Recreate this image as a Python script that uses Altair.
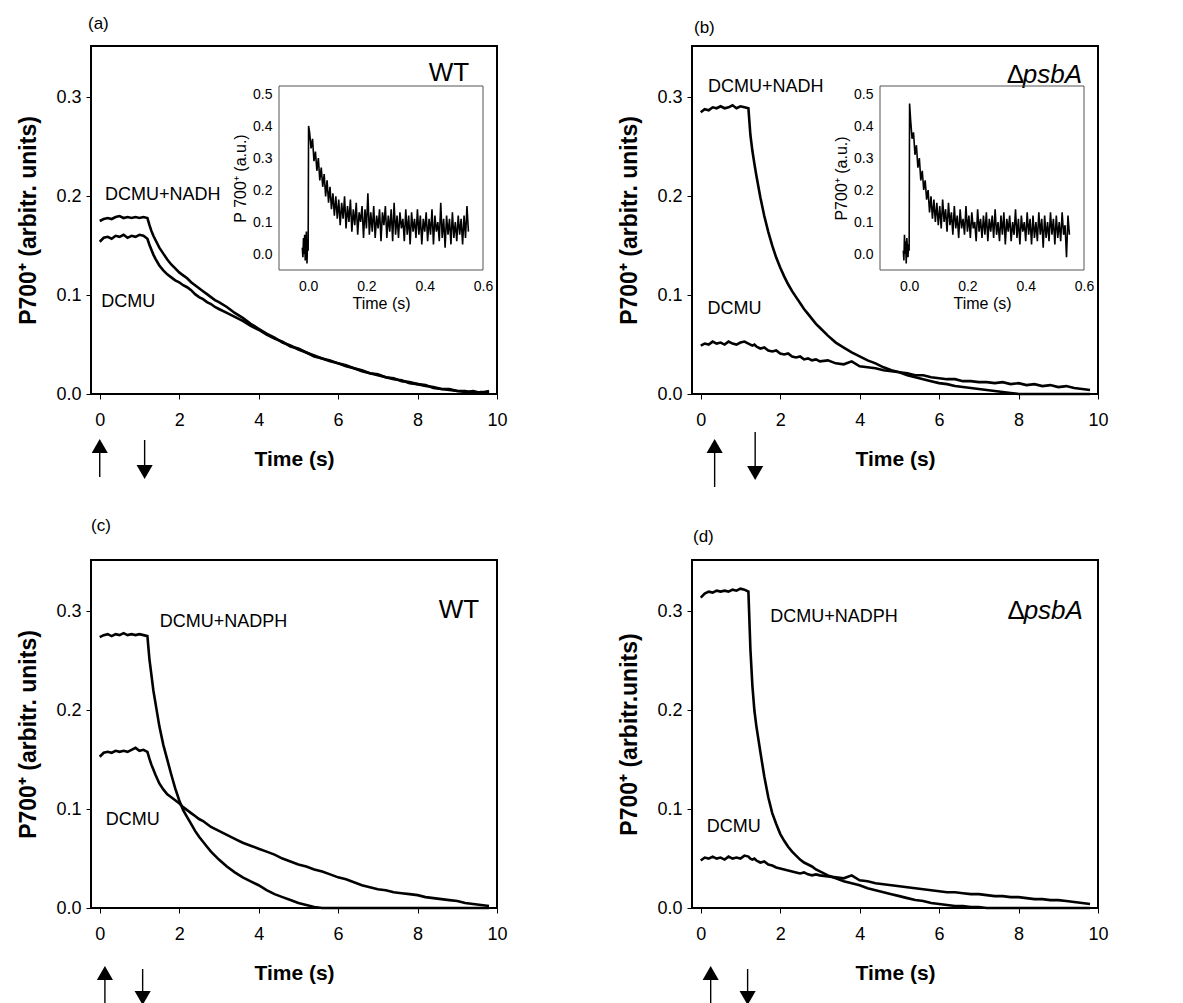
import altair as alt
import pandas as pd

FONT = "Liberation Sans"

# ---------------- data ----------------
time_s = [0.0, 0.1, 0.2, 0.3, 0.4, 0.5, 0.6, 0.7, 0.8, 0.9, 1.0, 1.1, 1.2,
          1.25, 1.3, 1.35, 1.4, 1.5, 1.6, 1.7, 1.8, 1.9, 2.0, 2.1, 2.2, 2.3, 2.4, 2.5, 2.6, 2.7, 2.8, 2.9, 3.0,
          3.2, 3.4, 3.6, 3.8, 4.0, 4.2, 4.4, 4.6, 4.8, 5.0, 5.2, 5.4, 5.6, 5.8, 6.0, 6.2, 6.4,
          6.6, 6.8, 7.0, 7.2, 7.4, 7.6, 7.8, 8.0, 8.2, 8.4, 8.6, 8.8, 9.0, 9.2, 9.4, 9.6, 9.8]

a_nadh = [0.175, 0.177, 0.178, 0.177, 0.179, 0.180, 0.178, 0.179, 0.178, 0.179, 0.178, 0.179, 0.178,
          0.171, 0.165, 0.160, 0.156, 0.148, 0.142, 0.136, 0.131, 0.127, 0.123, 0.120, 0.117, 0.113, 0.110, 0.107, 0.104, 0.101, 0.098, 0.095, 0.093,
          0.088, 0.082, 0.077, 0.071, 0.066, 0.061, 0.057, 0.052, 0.049, 0.045, 0.042, 0.039, 0.036, 0.034, 0.031, 0.028, 0.026,
          0.024, 0.021, 0.019, 0.017, 0.016, 0.013, 0.012, 0.010, 0.008, 0.007, 0.005, 0.004, 0.003, 0.003, 0.001, 0.002, 0.002]
a_dcmu = [0.154, 0.158, 0.159, 0.157, 0.160, 0.159, 0.161, 0.158, 0.160, 0.159, 0.161, 0.160, 0.157,
          0.151, 0.146, 0.141, 0.137, 0.130, 0.125, 0.121, 0.118, 0.115, 0.113, 0.110, 0.108, 0.105, 0.101, 0.098, 0.096, 0.093, 0.091, 0.088, 0.086,
          0.082, 0.078, 0.074, 0.069, 0.065, 0.060, 0.056, 0.053, 0.048, 0.046, 0.042, 0.038, 0.036, 0.033, 0.031, 0.029, 0.026,
          0.023, 0.021, 0.020, 0.017, 0.015, 0.014, 0.011, 0.010, 0.009, 0.006, 0.005, 0.005, 0.003, 0.002, 0.003, 0.001, 0.003]
b_nadh = [0.285, 0.288, 0.287, 0.290, 0.289, 0.291, 0.289, 0.290, 0.292, 0.289, 0.291, 0.290, 0.289,
          0.262, 0.246, 0.233, 0.221, 0.199, 0.180, 0.164, 0.150, 0.138, 0.128, 0.119, 0.111, 0.104, 0.098, 0.092, 0.086, 0.081, 0.076, 0.071, 0.067,
          0.059, 0.052, 0.047, 0.042, 0.038, 0.034, 0.031, 0.027, 0.024, 0.022, 0.019, 0.017, 0.015, 0.013, 0.011, 0.010, 0.008,
          0.007, 0.006, 0.005, 0.004, 0.003, 0.002, 0.001, 0.000, 0.000, 0.000, 0.000, 0.000, 0.000, 0.000, 0.000, 0.000, 0.000]
b_dcmu = [0.049, 0.051, 0.050, 0.053, 0.051, 0.052, 0.050, 0.053, 0.051, 0.050, 0.052, 0.053, 0.051,
          0.050, 0.049, 0.050, 0.048, 0.046, 0.047, 0.044, 0.043, 0.044, 0.041, 0.040, 0.041, 0.038, 0.037, 0.038, 0.035, 0.036, 0.034, 0.035, 0.033,
          0.034, 0.031, 0.030, 0.033, 0.028, 0.027, 0.026, 0.024, 0.023, 0.022, 0.021, 0.019, 0.019, 0.017, 0.016, 0.015, 0.015,
          0.013, 0.013, 0.012, 0.012, 0.011, 0.012, 0.010, 0.011, 0.009, 0.010, 0.008, 0.009, 0.007, 0.008, 0.006, 0.005, 0.004]
c_nadph = [0.274, 0.276, 0.277, 0.275, 0.277, 0.276, 0.278, 0.276, 0.277, 0.276, 0.277, 0.276, 0.275,
           0.252, 0.236, 0.220, 0.208, 0.184, 0.165, 0.150, 0.135, 0.121, 0.109, 0.099, 0.092, 0.085, 0.078, 0.072, 0.067, 0.062, 0.057, 0.053, 0.049,
           0.042, 0.036, 0.031, 0.027, 0.023, 0.018, 0.014, 0.011, 0.008, 0.005, 0.003, 0.001, 0.000, 0.000, 0.000, 0.000, 0.000,
           0.000, 0.000, 0.000, 0.000, 0.000, 0.000, 0.000, 0.000, 0.000, 0.000, 0.000, 0.000, 0.000, 0.000, 0.000, 0.000, 0.000]
c_dcmu = [0.153, 0.157, 0.158, 0.157, 0.159, 0.158, 0.159, 0.158, 0.160, 0.162, 0.159, 0.160, 0.158,
          0.151, 0.145, 0.140, 0.135, 0.126, 0.120, 0.115, 0.112, 0.109, 0.106, 0.102, 0.099, 0.096, 0.093, 0.090, 0.088, 0.085, 0.082, 0.080, 0.078,
          0.074, 0.070, 0.066, 0.063, 0.060, 0.057, 0.054, 0.050, 0.047, 0.044, 0.042, 0.039, 0.037, 0.034, 0.031, 0.029, 0.026,
          0.023, 0.021, 0.019, 0.018, 0.016, 0.015, 0.014, 0.013, 0.011, 0.010, 0.009, 0.008, 0.007, 0.005, 0.004, 0.003, 0.002]
d_nadph = [0.314, 0.318, 0.320, 0.319, 0.321, 0.320, 0.321, 0.320, 0.322, 0.321, 0.323, 0.322, 0.320,
           0.262, 0.225, 0.200, 0.184, 0.158, 0.133, 0.112, 0.096, 0.085, 0.075, 0.068, 0.062, 0.057, 0.053, 0.049, 0.046, 0.044, 0.042, 0.039, 0.037,
           0.033, 0.030, 0.027, 0.025, 0.023, 0.020, 0.018, 0.016, 0.014, 0.012, 0.010, 0.008, 0.007, 0.005, 0.004, 0.003, 0.002,
           0.002, 0.001, 0.001, 0.000, 0.000, 0.000, 0.000, 0.000, 0.000, 0.000, 0.000, 0.000, 0.000, 0.000, 0.000, 0.000, 0.000]
d_dcmu = [0.048, 0.051, 0.050, 0.052, 0.050, 0.051, 0.049, 0.052, 0.050, 0.051, 0.050, 0.053, 0.052,
          0.050, 0.049, 0.050, 0.048, 0.046, 0.047, 0.044, 0.043, 0.041, 0.040, 0.039, 0.038, 0.037, 0.036, 0.035, 0.036, 0.034, 0.033, 0.034, 0.033,
          0.032, 0.031, 0.030, 0.033, 0.028, 0.027, 0.025, 0.024, 0.023, 0.022, 0.021, 0.020, 0.019, 0.018, 0.017, 0.016, 0.016,
          0.015, 0.014, 0.014, 0.013, 0.012, 0.012, 0.011, 0.011, 0.010, 0.009, 0.009, 0.008, 0.008, 0.007, 0.006, 0.005, 0.004]

# inset traces (time in s, P700+ in a.u.)
inset_pre_t = [-0.020, -0.018, -0.016, -0.014, -0.012, -0.010, -0.008, -0.006, -0.004, -0.002, 0.000, 0.0015]
inset_t = inset_pre_t + [round(0.005 * i, 3) for i in range(1, 111)]
a_inset = [0.02, -0.01, 0.05, 0.00, 0.06, -0.02, 0.03, 0.07, -0.03, 0.04, 0.01, 0.40,
           0.38, 0.33, 0.36, 0.29, 0.32, 0.26, 0.30, 0.23, 0.27, 0.21,
           0.25, 0.18, 0.23, 0.16, 0.21, 0.14, 0.19, 0.12, 0.18, 0.11,
           0.17, 0.09, 0.16, 0.11, 0.18, 0.08, 0.15, 0.10, 0.17, 0.07,
           0.14, 0.09, 0.16, 0.06, 0.13, 0.10, 0.15, 0.05, 0.14, 0.08,
           0.19, 0.06, 0.13, 0.07, 0.15, 0.05, 0.12, 0.08, 0.14, 0.04,
           0.13, 0.09, 0.15, 0.05, 0.12, 0.07, 0.14, 0.04, 0.16, 0.06,
           0.12, 0.05, 0.13, 0.08, 0.11, 0.04, 0.14, 0.06, 0.12, 0.03,
           0.13, 0.07, 0.11, 0.05, 0.14, 0.06, 0.12, 0.03, 0.11, 0.07,
           0.13, 0.04, 0.11, 0.06, 0.14, 0.03, 0.12, 0.07, 0.10, 0.04,
           0.16, 0.05, 0.11, 0.02, 0.12, 0.06, 0.11, 0.03, 0.13, 0.05,
           0.10, 0.04, 0.12, 0.06, 0.11, 0.03, 0.12, 0.05, 0.15, 0.07]
b_inset = [0.01, -0.02, 0.06, 0.00, 0.04, -0.03, 0.05, 0.02, -0.01, 0.03, 0.01, 0.47,
           0.42, 0.36, 0.38, 0.31, 0.34, 0.27, 0.30, 0.23, 0.26, 0.20,
           0.23, 0.17, 0.20, 0.13, 0.18, 0.11, 0.17, 0.10, 0.16, 0.09,
           0.15, 0.08, 0.17, 0.10, 0.14, 0.07, 0.16, 0.09, 0.13, 0.06,
           0.15, 0.08, 0.12, 0.05, 0.14, 0.08, 0.11, 0.06, 0.15, 0.07,
           0.12, 0.05, 0.13, 0.08, 0.10, 0.04, 0.14, 0.07, 0.11, 0.05,
           0.12, 0.06, 0.13, 0.04, 0.11, 0.07, 0.12, 0.05, 0.14, 0.06,
           0.10, 0.04, 0.12, 0.06, 0.13, 0.03, 0.11, 0.07, 0.12, 0.04,
           0.10, 0.06, 0.14, 0.05, 0.11, 0.03, 0.12, 0.07, 0.10, 0.04,
           0.13, 0.06, 0.11, 0.03, 0.12, 0.05, 0.10, 0.04, 0.13, 0.06,
           0.11, 0.02, 0.12, 0.05, 0.10, 0.04, 0.13, 0.06, 0.11, 0.03,
           0.12, 0.05, 0.10, 0.04, 0.13, 0.06, 0.09, -0.01, 0.12, 0.06]

# light on / light off times (arrows)
light_on = {"a": 0.0, "b": 0.35, "c": 0.13, "d": 0.25}
light_off = {"a": 1.13, "b": 1.37, "c": 1.08, "d": 1.18}

# ---------------- layout constants ----------------
W, H = 406, 348
X_DOMAIN = [-0.22, 10]
Y_DOMAIN = [0, 0.352]
INSET_X_DOMAIN = [-0.1, 0.6]
INSET_Y_DOMAIN = [-0.05, 0.525]
INSET_X_RANGE = [188, 392]
INSET_Y_RANGE = [224, 40]


def check(name, vals, ref):
    if len(vals) != len(ref):
        raise ValueError(f"{name}: {len(vals)} values vs {len(ref)} times")


def make_panel(key, curves, curve_labels, strain, strain_pos, letter_px, arrow_px, ytitle,
               inset_vals=None, inset_title=None):
    rows = []
    for name, vals in curves:
        check(name, vals, time_s)
        for t, v in zip(time_s, vals):
            rows.append({"t": t, "v": v, "series": name})
    df = pd.DataFrame(rows)

    xs = alt.Scale(domain=X_DOMAIN, nice=False, zero=False)
    ys = alt.Scale(domain=Y_DOMAIN, nice=False, zero=False)

    x_axis = alt.Axis(values=[0, 2, 4, 6, 8, 10], format="d", title="Time (s)", grid=False, domain=False,
                      tickSize=5, tickColor="black", labelFontSize=18, labelFont=FONT, labelColor="black",
                      labelPadding=12, labelFlush=False, titleFont=FONT, titleFontSize=21,
                      titleFontWeight="bold", titleColor="black", titlePadding=19)
    y_axis = alt.Axis(values=[0, 0.1, 0.2, 0.3], format=".1f", title=ytitle, grid=False, domain=False,
                      tickSize=5, tickColor="black", labelFontSize=18, labelFont=FONT, labelColor="black",
                      labelPadding=5, labelFlush=False, titleFont=FONT, titleFontSize=23,
                      titleFontWeight="bold", titleColor="black", titlePadding=15)

    def X(field="t"):
        return alt.X(f"{field}:Q", scale=xs, axis=x_axis)

    def Y(field="v"):
        return alt.Y(f"{field}:Q", scale=ys, axis=y_axis)

    lines = alt.Chart(df).mark_line(color="black", strokeWidth=2.6).encode(
        x=X(), y=Y(), detail="series:N")

    lab_df = pd.DataFrame(curve_labels, columns=["t", "v", "txt"])
    labels = alt.Chart(lab_df).mark_text(align="left", baseline="alphabetic", fontSize=18,
                                         font=FONT, color="black").encode(x=X(), y=Y(), text="txt:N")

    st_df = pd.DataFrame([{"t": strain_pos[0], "v": strain_pos[1]}])
    if strain == "WT":
        strain_layers = [alt.Chart(st_df).mark_text(align="right", baseline="alphabetic", fontSize=26,
                                                    font=FONT, color="black", text="WT").encode(x=X(), y=Y())]
    else:
        strain_layers = [
            alt.Chart(st_df).mark_text(align="right", baseline="alphabetic", fontSize=26, font=FONT,
                                       fontStyle="italic", color="black", text="psbA").encode(x=X(), y=Y()),
            alt.Chart(st_df).mark_text(align="right", baseline="alphabetic", fontSize=26, font=FONT,
                                       color="black", text="Δ", dx=-58).encode(x=X(), y=Y()),
        ]

    letter_df = pd.DataFrame([{"txt": f"({key})"}])
    letter = alt.Chart(letter_df).mark_text(align="left", baseline="alphabetic", fontSize=17,
                                            font=FONT, color="black").encode(
        x=alt.value(letter_px[0]), y=alt.value(letter_px[1]), text="txt:N")

    on_df = pd.DataFrame([{"t": light_on[key]}])
    off_df = pd.DataFrame([{"t": light_off[key]}])
    up_head, up_bottom, down_top, down_head = arrow_px
    up_shaft = alt.Chart(on_df).mark_rule(color="black", strokeWidth=1.4).encode(
        x=X(), y=alt.value(up_head), y2=alt.value(up_bottom))
    up_tri = alt.Chart(on_df).mark_point(shape="triangle-up", filled=True, size=260, color="black",
                                         opacity=1).encode(x=X(), y=alt.value(up_head))
    down_shaft = alt.Chart(off_df).mark_rule(color="black", strokeWidth=1.4).encode(
        x=X(), y=alt.value(down_top), y2=alt.value(down_head))
    down_tri = alt.Chart(off_df).mark_point(shape="triangle-down", filled=True, size=260, color="black",
                                            opacity=1).encode(x=X(), y=alt.value(down_head))

    main = alt.layer(lines, labels, *strain_layers, letter, up_shaft, up_tri, down_shaft, down_tri)

    if inset_vals is None:
        return main.properties(width=W, height=H)

    check("inset", inset_vals, inset_t)
    idf = pd.DataFrame({"ti": inset_t, "vi": inset_vals})
    xi = alt.Scale(domain=INSET_X_DOMAIN, range=INSET_X_RANGE, nice=False, zero=False)
    yi = alt.Scale(domain=INSET_Y_DOMAIN, range=INSET_Y_RANGE, nice=False, zero=False)
    ix_axis = alt.Axis(orient="bottom", offset=INSET_Y_RANGE[0] - H, values=[0, 0.2, 0.4, 0.6], format=".1f",
                       title="Time (s)", grid=False, domain=False, ticks=False, labelFontSize=14,
                       labelFont=FONT, labelColor="black", labelPadding=9, labelFlush=False,
                       titleFont=FONT, titleFontSize=16, titleFontWeight="normal", titleColor="black",
                       titlePadding=2)
    iy_axis = alt.Axis(orient="left", offset=-INSET_X_RANGE[0], values=[0, 0.1, 0.2, 0.3, 0.4, 0.5],
                       format=".1f", title=inset_title, grid=False, domain=False, ticks=False,
                       labelFontSize=14, labelFont=FONT, labelColor="black", labelPadding=7,
                       labelFlush=False, titleFont=FONT, titleFontSize=16, titleFontWeight="normal",
                       titleColor="black", titlePadding=4)
    box_df = pd.DataFrame([{"ti": INSET_X_DOMAIN[0], "ti2": INSET_X_DOMAIN[1],
                            "vi": INSET_Y_DOMAIN[0], "vi2": INSET_Y_DOMAIN[1]}])
    box = alt.Chart(box_df).mark_rect(fillOpacity=0, stroke="#555555", strokeWidth=1).encode(
        x=alt.X("ti:Q", scale=xi, axis=ix_axis), x2="ti2:Q",
        y=alt.Y("vi:Q", scale=yi, axis=iy_axis), y2="vi2:Q")
    iline = alt.Chart(idf).mark_line(color="black", strokeWidth=1.6).encode(
        x=alt.X("ti:Q", scale=xi, axis=ix_axis), y=alt.Y("vi:Q", scale=yi, axis=iy_axis))
    inset = alt.layer(box, iline)

    return alt.layer(main, inset).resolve_scale(x="independent", y="independent").properties(
        width=W, height=H)


YT = "P700⁺ (arbitr. units)"

pa = make_panel("a", [("DCMU+NADH", a_nadh), ("DCMU", a_dcmu)],
                [(0.13, 0.196, "DCMU+NADH"), (0.04, 0.088, "DCMU")],
                "WT", (9.3, 0.317), (-3, -17), (400, 431, 394, 426), YT,
                inset_vals=a_inset, inset_title="P 700⁺ (a.u.)")
pb = make_panel("b", [("DCMU+NADH", b_nadh), ("DCMU", b_dcmu)],
                [(0.18, 0.305, "DCMU+NADH"), (0.17, 0.081, "DCMU")],
                "psbA", (9.6, 0.315), (2, -13), (400, 441, 386, 427), YT,
                inset_vals=b_inset, inset_title="P700⁺ (a.u.)")
pc = make_panel("c", [("DCMU+NADPH", c_nadph), ("DCMU", c_dcmu)],
                [(1.51, 0.2845, "DCMU+NADPH"), (0.15, 0.084, "DCMU")],
                "WT", (9.55, 0.293), (0, -29), (413, 452, 409, 438), YT)
pd_ = make_panel("d", [("DCMU+NADPH", d_nadph), ("DCMU", d_dcmu)],
                 [(1.75, 0.289, "DCMU+NADPH"), (0.15, 0.077, "DCMU")],
                 "psbA", (9.62, 0.292), (1, -18), (413, 452, 409, 438), "P700⁺ (arbitr.units)")

chart = alt.concat(pa, pb, pc, pd_, columns=2, spacing={"row": 166, "column": 195},
                   bounds="flush").configure_view(
    stroke="black", strokeWidth=2).properties(
    padding={"left": 8, "top": 6, "right": 5, "bottom": 5}, background="white")

chart.save("out.html", embed_options={"renderer": "svg", "actions": False})
